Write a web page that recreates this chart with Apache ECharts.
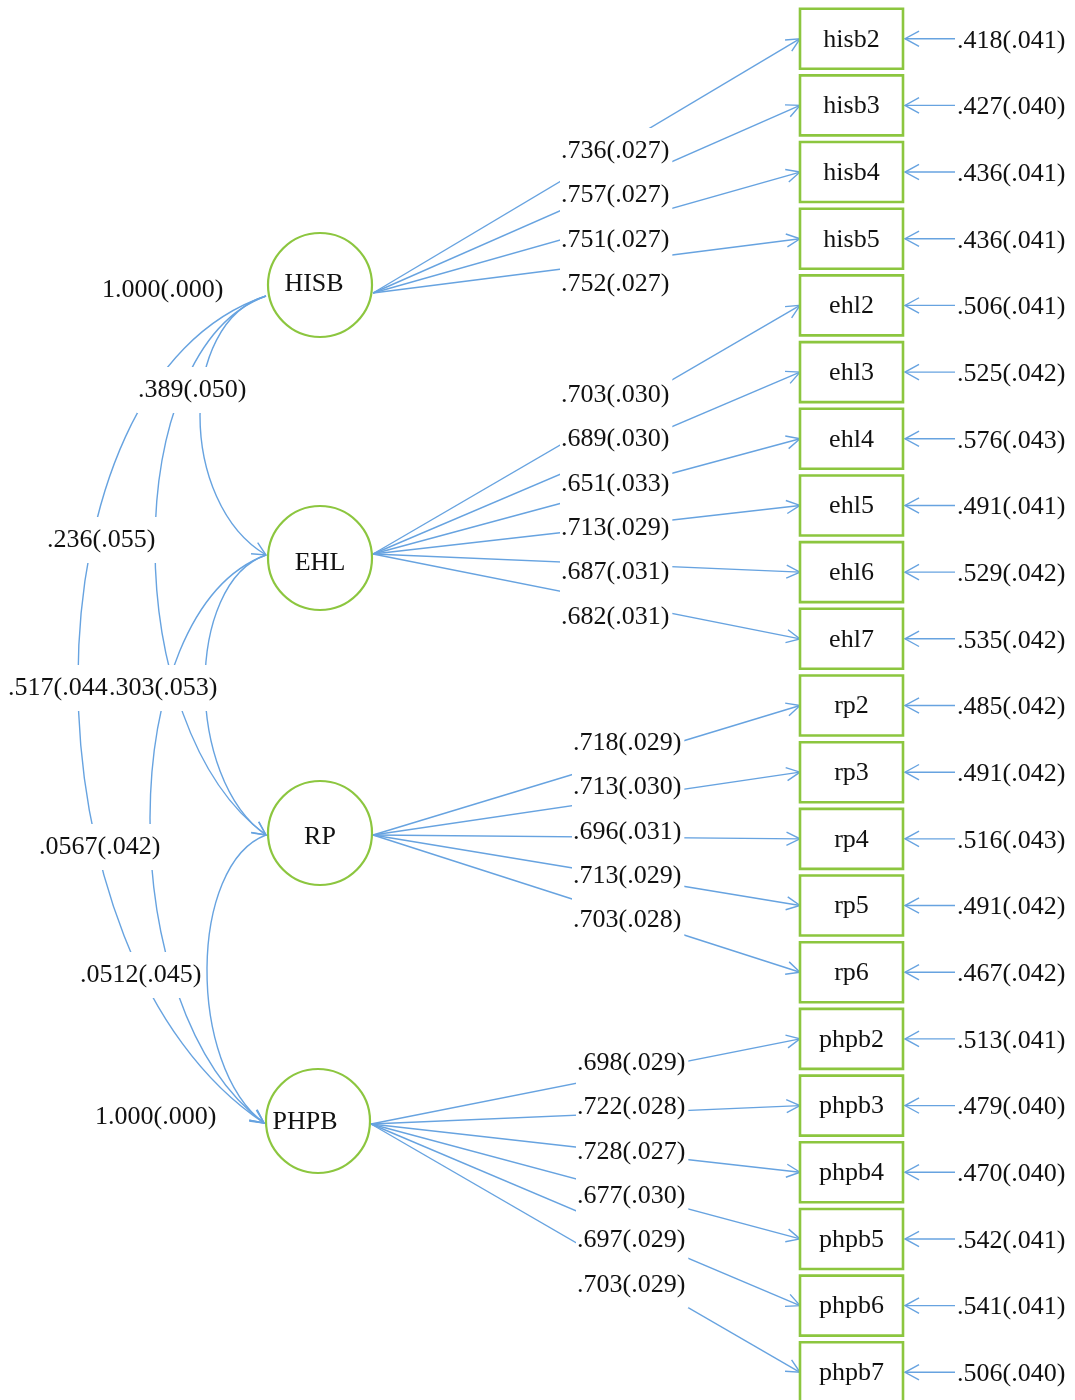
<!DOCTYPE html>
<html>
<head>
<meta charset="utf-8">
<script src="https://cdn.jsdelivr.net/npm/echarts@6/dist/echarts.min.js"></script>
<style>
  html, body { margin: 0; padding: 0; background: #ffffff; }
  #chart { width: 1075px; height: 1400px; }
</style>
</head>
<body>
<div id="chart"></div>
<script>
// ---- Model content ----
// Latent factors
const factors = ['HISB', 'EHL', 'RP', 'PHPB'];

// Observed indicators and the factor each one loads on
const indicators = [
  'hisb2', 'hisb3', 'hisb4', 'hisb5',
  'ehl2', 'ehl3', 'ehl4', 'ehl5', 'ehl6', 'ehl7',
  'rp2', 'rp3', 'rp4', 'rp5', 'rp6',
  'phpb2', 'phpb3', 'phpb4', 'phpb5', 'phpb6', 'phpb7'
];
const indicatorFactor = [0, 0, 0, 0, 1, 1, 1, 1, 1, 1, 2, 2, 2, 2, 2, 3, 3, 3, 3, 3, 3];

// Standardised loadings (standard error)
const loadings = [
  '.736(.027)', '.757(.027)', '.751(.027)', '.752(.027)',
  '.703(.030)', '.689(.030)', '.651(.033)', '.713(.029)', '.687(.031)', '.682(.031)',
  '.718(.029)', '.713(.030)', '.696(.031)', '.713(.029)', '.703(.028)',
  '.698(.029)', '.722(.028)', '.728(.027)', '.677(.030)', '.697(.029)', '.703(.029)'
];

// Residual variances (standard error)
const residuals = [
  '.418(.041)', '.427(.040)', '.436(.041)', '.436(.041)',
  '.506(.041)', '.525(.042)', '.576(.043)', '.491(.041)', '.529(.042)', '.535(.042)',
  '.485(.042)', '.491(.042)', '.516(.043)', '.491(.042)', '.467(.042)',
  '.513(.041)', '.479(.040)', '.470(.040)', '.542(.041)', '.541(.041)', '.506(.040)'
];

// Factor covariances drawn as curved paths on the left
const covPairs = [[0, 1], [0, 2], [0, 3], [1, 2], [1, 3], [2, 3]];
const covLabels = ['.389(.050)', '.236(.055)', '.517(.044)', '.303(.053)', '.0567(.042)', '.0512(.045)'];
const varianceLabels = ['1.000(.000)', '1.000(.000)'];

// ---- Layout (pixel units of the hidden axes) ----
const L = {
  boxX: 800, boxW: 103, boxH: 60, rowY0: 38.7, rowStep: 66.68,
  factorX: [320, 320, 320, 318], factorY: [285, 558, 833, 1121], r: 52,
  textDx: [-6, 0, 0, -13], textDy: [-1, 5, 4, 1],
  outDy: [8, -4, 2, 3], inDy: [11, -3, 2, 2],
  loadLabelX: [561, 561, 573, 577], loadLabelY0: [151, 395, 743, 1063], loadLabelStep: 44.4,
  resLineX: 955, resTextX: 957,
  covXmin: [200, 155, 78, 205, 150, 207], bendStart: 0.1, bendEnd: 0.2,
  covLabelPos: [[138, 390], [47, 540], [8, 688], [109, 688], [39, 847], [80, 975]],
  varLabelPos: [[102, 290], [95, 1117]]
};

const FONT = '26px "Liberation Serif", "Times New Roman", serif';
const BLUE = '#67a3e0';
const GREEN = '#8cc63f';
const INK = '#111111';

function rowY(i) { return L.rowY0 + i * L.rowStep; }
const groupStart = factors.map((_, f) => indicatorFactor.indexOf(f));

// open "V" arrow head at tip, pointing away from `from`
function arrowHead(tip, from, len, half) {
  const ang = Math.atan2(tip[1] - from[1], tip[0] - from[0]);
  const a1 = ang + Math.PI - half, a2 = ang + Math.PI + half;
  return {
    type: 'polyline',
    shape: { points: [
      [tip[0] + len * Math.cos(a1), tip[1] + len * Math.sin(a1)],
      tip,
      [tip[0] + len * Math.cos(a2), tip[1] + len * Math.sin(a2)]
    ] },
    style: { stroke: BLUE, lineWidth: 1.4, fill: null }
  };
}

function label(api, text, x, y, withBg, align) {
  const p = api.coord([x, y]);
  const style = { text: text, font: FONT, fill: INK, align: align || 'left', verticalAlign: 'middle' };
  if (withBg) {
    style.backgroundColor = '#ffffff';
    style.padding = [10, 3, 10, 1];
  }
  return { type: 'text', x: p[0], y: p[1], style: style };
}

const idxData = arr => arr.map((_, i) => [i, i]);

const option = {
  animation: false,
  backgroundColor: '#ffffff',
  grid: { left: 0, right: 0, top: 0, bottom: 0 },
  xAxis: { type: 'value', min: 0, max: 1075, show: false },
  yAxis: { type: 'value', min: 0, max: 1400, inverse: true, show: false },
  series: [
    // loading paths: factor -> indicator
    {
      type: 'custom', z: 2, data: idxData(indicators),
      renderItem: function (params, api) {
        const i = api.value(0), f = indicatorFactor[i];
        const s = api.coord([L.factorX[f] + L.r + 1, L.factorY[f] + L.outDy[f]]);
        const e = api.coord([L.boxX, rowY(i)]);
        return { type: 'group', children: [
          { type: 'line', shape: { x1: s[0], y1: s[1], x2: e[0], y2: e[1] }, style: { stroke: BLUE, lineWidth: 1.4 } },
          arrowHead(e, s, 15, 0.45)
        ] };
      }
    },
    // covariance curves
    {
      type: 'custom', z: 2, data: idxData(covPairs),
      renderItem: function (params, api) {
        const k = api.value(0), a = covPairs[k][0], b = covPairs[k][1];
        const x0 = L.factorX[a] - L.r - 2, y0 = L.factorY[a] + L.inDy[a];
        const x3 = L.factorX[b] - L.r - 2, y3 = L.factorY[b] + L.inDy[b];
        const h = y3 - y0;
        const reach = ((x0 + x3) / 2 - L.covXmin[k]) / 0.75;
        const p0 = api.coord([x0, y0]);
        const c1 = api.coord([x0 - reach, y0 + h * L.bendStart]);
        const c2 = api.coord([x3 - reach, y3 - h * L.bendEnd]);
        const p3 = api.coord([x3, y3]);
        return { type: 'group', children: [
          { type: 'bezierCurve', shape: { x1: p0[0], y1: p0[1], cpx1: c1[0], cpy1: c1[1], cpx2: c2[0], cpy2: c2[1], x2: p3[0], y2: p3[1] },
            style: { stroke: BLUE, lineWidth: 1.4, fill: null } },
          arrowHead(p3, c2, 15, 0.45)
        ] };
      }
    },
    // residual arrows and values
    {
      type: 'custom', z: 2, data: idxData(residuals),
      renderItem: function (params, api) {
        const i = api.value(0), y = rowY(i);
        const s = api.coord([L.resLineX, y]);
        const e = api.coord([L.boxX + L.boxW + 2, y]);
        return { type: 'group', children: [
          { type: 'line', shape: { x1: s[0], y1: s[1], x2: e[0], y2: e[1] }, style: { stroke: BLUE, lineWidth: 1.4 } },
          arrowHead(e, s, 16, 0.5),
          label(api, residuals[i], L.resTextX, y + 2, false)
        ] };
      }
    },
    // indicator boxes
    {
      type: 'custom', z: 3, data: idxData(indicators),
      renderItem: function (params, api) {
        const i = api.value(0), y = rowY(i);
        const tl = api.coord([L.boxX, y - L.boxH / 2]);
        const br = api.coord([L.boxX + L.boxW, y + L.boxH / 2]);
        return { type: 'group', children: [
          { type: 'rect', shape: { x: tl[0], y: tl[1], width: br[0] - tl[0], height: br[1] - tl[1] },
            style: { stroke: GREEN, lineWidth: 2.6, fill: '#ffffff' } },
          label(api, indicators[i], L.boxX + L.boxW / 2, y + 1, false, 'center')
        ] };
      }
    },
    // latent factor circles
    {
      type: 'custom', z: 3, data: idxData(factors),
      renderItem: function (params, api) {
        const f = api.value(0);
        const c = api.coord([L.factorX[f], L.factorY[f]]);
        const edge = api.coord([L.factorX[f] + L.r, L.factorY[f]]);
        return { type: 'group', children: [
          { type: 'circle', shape: { cx: c[0], cy: c[1], r: edge[0] - c[0] }, style: { stroke: GREEN, lineWidth: 2.2, fill: '#ffffff' } },
          label(api, factors[f], L.factorX[f] + L.textDx[f], L.factorY[f] + L.textDy[f], false, 'center')
        ] };
      }
    },
    // loading values, set on white so the paths break behind them
    {
      type: 'custom', z: 5, data: idxData(loadings),
      renderItem: function (params, api) {
        const i = api.value(0), f = indicatorFactor[i], k = i - groupStart[f];
        return label(api, loadings[i], L.loadLabelX[f] - 1, L.loadLabelY0[f] + k * L.loadLabelStep, true);
      }
    },
    // covariance values
    {
      type: 'custom', z: 5, data: idxData(covLabels),
      renderItem: function (params, api) {
        const k = api.value(0);
        return label(api, covLabels[k], L.covLabelPos[k][0] - 1, L.covLabelPos[k][1], true);
      }
    },
    // factor variance values
    {
      type: 'custom', z: 5, data: idxData(varianceLabels),
      renderItem: function (params, api) {
        const k = api.value(0);
        return label(api, varianceLabels[k], L.varLabelPos[k][0], L.varLabelPos[k][1], false);
      }
    }
  ]
};

const chart = echarts.init(document.getElementById('chart'));
chart.setOption(option);
</script>
</body>
</html>
